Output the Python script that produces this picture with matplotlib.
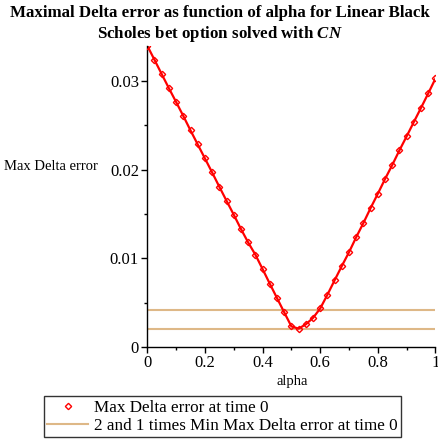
import matplotlib
matplotlib.use("Agg")
import matplotlib.pyplot as plt
import numpy as np
from matplotlib.ticker import MultipleLocator

plt.rcParams['font.family'] = ['Liberation Serif', 'DejaVu Serif']
plt.rcParams['mathtext.fontset'] = 'custom'
plt.rcParams['mathtext.it'] = 'Liberation Serif:italic:bold'
plt.rcParams['mathtext.rm'] = 'Liberation Serif'

alpha = [0.0, 0.025, 0.05, 0.075, 0.1, 0.125, 0.15, 0.175, 0.2, 0.225,
         0.25, 0.275, 0.3, 0.325, 0.35, 0.375, 0.4, 0.425, 0.45, 0.475,
         0.5, 0.525, 0.55, 0.575, 0.6, 0.625, 0.65, 0.675, 0.7, 0.725,
         0.75, 0.775, 0.8, 0.825, 0.85, 0.875, 0.9, 0.925, 0.95, 0.975, 1.0]
max_delta_err = [0.0340, 0.0324, 0.0308, 0.0292, 0.02765, 0.02607, 0.02444, 0.02286, 0.02128, 0.0197,
                 0.01808, 0.0165, 0.01493, 0.01332, 0.0118, 0.01042, 0.0088, 0.00715, 0.00553, 0.00392,
                 0.00233, 0.00207, 0.00256, 0.00328, 0.00435, 0.0059, 0.00753, 0.00914, 0.0107, 0.0124,
                 0.0140, 0.01569, 0.0173, 0.01896, 0.02054, 0.0222, 0.02378, 0.0254, 0.0270, 0.02863, 0.0303]

min_err = min(max_delta_err)
ref_levels = [2 * min_err, min_err]

fig = plt.figure(figsize=(4.39, 4.42), dpi=100)
ax = fig.add_axes([0.3355, 0.2149, 0.6565, 0.6817])

for i, lvl in enumerate(ref_levels):
    ax.axhline(lvl, color='#DEB887', lw=1.5, zorder=1,
               label='2 and 1 times Min Max Delta error at time 0' if i == 0 else None)
ax.plot(alpha, max_delta_err, color='#ff0000', lw=1.6, zorder=2)
ax.plot(alpha, max_delta_err, ls='none', marker='D', ms=3.2, mfc='none', mec='#ff0000',
        mew=1.0, zorder=3, label='Max Delta error at time 0')

ax.set_xlim(0, 1)
ax.set_ylim(0, max(max_delta_err))
for s in ['top', 'right']:
    ax.spines[s].set_visible(False)
ax.spines['left'].set_linewidth(1.0)
ax.spines['bottom'].set_linewidth(1.0)
ax.xaxis.set_minor_locator(MultipleLocator(0.1))
ax.yaxis.set_minor_locator(MultipleLocator(0.005))
ax.set_xticks([0, 0.2, 0.4, 0.6, 0.8, 1.0])
ax.set_xticklabels(['0', '0.2', '0.4', '0.6', '0.8', '1'])
ax.set_yticks([0, 0.01, 0.02, 0.03])
ax.set_yticklabels(['0', '0.01', '0.02', '0.03'])
ax.tick_params(which='major', length=4, width=1, labelsize=12, pad=2)
ax.tick_params(which='minor', length=2.5, width=1)

fig.text(0.117, 0.6227, 'Max Delta error', fontsize=10.5, ha='center', va='center')
fig.text(0.665, 0.136, 'alpha', fontsize=10.5, ha='center', va='center')

fig.text(0.5, 0.970, 'Maximal Delta error as function of alpha for Linear Black',
         fontsize=12.2, fontweight='bold', ha='center', va='center')
fig.text(0.5, 0.923, r'Scholes bet option solved with $\mathit{CN}$',
         fontsize=12.2, fontweight='bold', ha='center', va='center')

handles, labels = ax.get_legend_handles_labels()
order = [1, 0]
leg = fig.legend([handles[i] for i in order], [labels[i] for i in order],
                 loc='center', bbox_to_anchor=(0.507, 0.0575), fontsize=12.3,
                 frameon=True, fancybox=False, edgecolor='black', handlelength=2.4,
                 handletextpad=0.35, borderpad=0.2, labelspacing=0.12, borderaxespad=0)
leg.get_frame().set_linewidth(1.0)

fig.savefig('out.png', dpi=100)
